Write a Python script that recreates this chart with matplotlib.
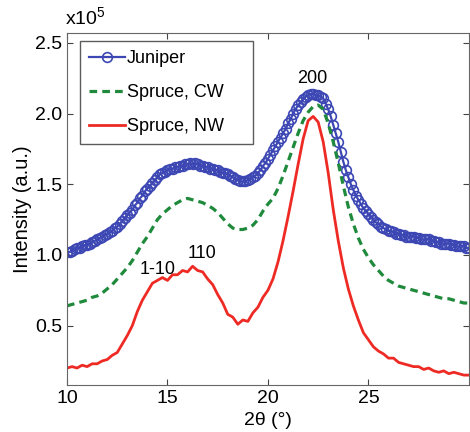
import numpy as np
import matplotlib.pyplot as plt

plt.rcParams['font.family'] = ['Liberation Sans', 'DejaVu Sans']
plt.rcParams['mathtext.fontset'] = 'custom'
plt.rcParams['mathtext.rm'] = 'Liberation Sans'

# --- Data (intensity in units of 1e5) ---
# juniper is sampled finer (every 0.125 deg), spruce curves every 0.25 deg
theta_jun = np.arange(10, 30.001, 0.125)
juniper = [1.02, 1.02, 1.03, 1.04, 1.05, 1.05, 1.06, 1.07,
           1.07, 1.08, 1.09, 1.10, 1.11, 1.12, 1.13, 1.14,
           1.15, 1.16, 1.17, 1.19, 1.20, 1.22, 1.24, 1.26,
           1.28, 1.30, 1.32, 1.35, 1.37, 1.40, 1.42, 1.45,
           1.47, 1.49, 1.51, 1.53, 1.55, 1.57, 1.58, 1.59,
           1.60, 1.61, 1.61, 1.62, 1.62, 1.63, 1.63, 1.64,
           1.64, 1.65, 1.64, 1.65, 1.64, 1.63, 1.63, 1.62,
           1.62, 1.61, 1.61, 1.60, 1.60, 1.59, 1.58, 1.58,
           1.57, 1.56, 1.55, 1.54, 1.53, 1.52, 1.52, 1.52,
           1.53, 1.54, 1.55, 1.56, 1.58, 1.60, 1.63, 1.65,
           1.68, 1.71, 1.74, 1.77, 1.80, 1.83, 1.86, 1.89,
           1.93, 1.96, 2.00, 2.03, 2.06, 2.08, 2.10, 2.12,
           2.13, 2.14, 2.14, 2.13, 2.13, 2.12, 2.11, 2.07,
           2.03, 1.98, 1.92, 1.86, 1.80, 1.73, 1.66, 1.60,
           1.55, 1.50, 1.46, 1.42, 1.39, 1.36, 1.33, 1.31,
           1.29, 1.27, 1.25, 1.23, 1.22, 1.20, 1.19, 1.18,
           1.17, 1.17, 1.16, 1.15, 1.15, 1.14, 1.14, 1.13,
           1.13, 1.13, 1.13, 1.12, 1.12, 1.11, 1.11, 1.11,
           1.11, 1.10, 1.10, 1.09, 1.09, 1.08, 1.08, 1.08,
           1.08, 1.07, 1.07, 1.06, 1.06, 1.06, 1.06, 1.05,
           1.05]

theta = np.arange(10, 30.001, 0.25)
spruce_cw = [0.64, 0.65, 0.66, 0.67, 0.68, 0.70, 0.71, 0.73, 0.76, 0.79,
             0.83, 0.87, 0.91, 0.96, 1.02, 1.08, 1.13, 1.19, 1.25, 1.29,
             1.32, 1.35, 1.37, 1.39, 1.40, 1.39, 1.38, 1.37, 1.35, 1.33,
             1.30, 1.26, 1.22, 1.19, 1.18, 1.18, 1.19, 1.21, 1.25, 1.31,
             1.36, 1.40, 1.47, 1.56, 1.66, 1.76, 1.86, 1.95, 2.01, 2.05,
             2.06, 2.03, 1.93, 1.80, 1.65, 1.49, 1.34, 1.22, 1.12, 1.04,
             0.98, 0.93, 0.89, 0.85, 0.82, 0.80, 0.78, 0.77, 0.76, 0.75,
             0.74, 0.73, 0.72, 0.71, 0.70, 0.69, 0.69, 0.68, 0.67, 0.66,
             0.66]

spruce_nw = [0.20, 0.21, 0.20, 0.22, 0.21, 0.23, 0.23, 0.25, 0.26, 0.29,
             0.31, 0.37, 0.43, 0.50, 0.60, 0.68, 0.74, 0.80, 0.82, 0.84,
             0.82, 0.86, 0.86, 0.89, 0.88, 0.92, 0.89, 0.88, 0.83, 0.79,
             0.72, 0.66, 0.58, 0.56, 0.51, 0.54, 0.53, 0.59, 0.63, 0.70,
             0.75, 0.83, 0.95, 1.10, 1.27, 1.45, 1.64, 1.82, 1.95, 1.98,
             1.94, 1.80, 1.58, 1.32, 1.10, 0.91, 0.76, 0.64, 0.54, 0.45,
             0.40, 0.35, 0.32, 0.30, 0.27, 0.27, 0.24, 0.23, 0.22, 0.21,
             0.21, 0.19, 0.20, 0.18, 0.17, 0.18, 0.16, 0.17, 0.16, 0.15,
             0.15]

peak_labels = ['1-10', '110', '200']
peak_pos = [(14.5, 0.90), (16.7, 1.01), (22.2, 2.25)]

x_ticks = [10, 15, 20, 25]
y_ticks = [0.5, 1.0, 1.5, 2.0, 2.5]

fig = plt.figure(figsize=(4.70, 4.32), dpi=100)
ax = fig.add_axes([0.1426, 0.1088, 0.855, 0.8148])

ax.plot(theta_jun, juniper, color='#3c47b4', linewidth=1.6, marker='o',
        markersize=7, markerfacecolor='none', markeredgewidth=1.2,
        label='Juniper')
ax.plot(theta, spruce_cw, color='#1f8a3c', linewidth=2.3,
        linestyle=(0, (2.4, 1.6)), label='Spruce, CW')
ax.plot(theta, spruce_nw, color='#ee2a24', linewidth=2.0,
        label='Spruce, NW    ')

for lab, (px, py) in zip(peak_labels, peak_pos):
    ax.text(px, py, lab, ha='center', va='center', fontsize=13)

ax.set_xlim(10, 30)
ax.set_ylim(0.08, 2.57)
ax.set_xticks(x_ticks)
ax.set_yticks(y_ticks)
ax.set_yticklabels(['0.5', '1.0', '1.5', '2.0', '2.5'])
ax.tick_params(direction='in', top=True, right=True, labelsize=14,
               length=4, color='#444444')
for sp in ax.spines.values():
    sp.set_color('#666666')

ax.set_xlabel('2θ (°)', fontsize=14, labelpad=4)
ax.set_ylabel('Intensity (a.u.)', fontsize=14.5, labelpad=2)

fig.text(65 / 470, 1 - 18 / 432, r'x10$^{\mathregular{5}}$', fontsize=14,
         ha='left', va='center')

leg = ax.legend(loc='upper left', bbox_to_anchor=(0.032, 0.977),
                borderaxespad=0, fontsize=13, fancybox=False,
                handlelength=2.0, handletextpad=0.1, labelspacing=0.95,
                borderpad=0.5, markerscale=1.0)
leg.get_frame().set_edgecolor('#333333')
leg.get_frame().set_linewidth(1.0)

plt.savefig('out.png', dpi=100)
